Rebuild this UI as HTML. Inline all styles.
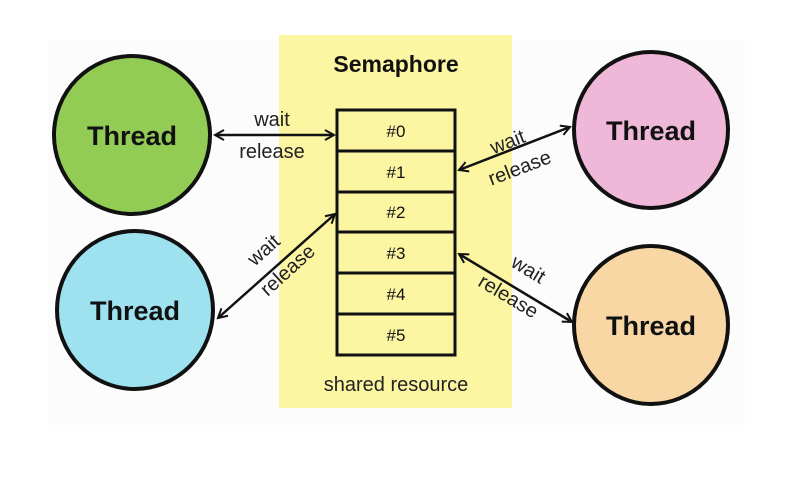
<!DOCTYPE html>
<html><head><meta charset="utf-8"><style>body{margin:0;background:#fff}</style></head><body>
<svg width="810" height="478" xmlns="http://www.w3.org/2000/svg" font-family="Liberation Sans, sans-serif">
<defs><marker id="a" markerWidth="12" markerHeight="12" refX="10" refY="6" orient="auto-start-reverse" markerUnits="userSpaceOnUse"><path d="M1,1 L10,6 L1,11" fill="none" stroke="#111" stroke-width="2"/></marker></defs>
<rect x="48" y="40" width="697" height="385" fill="#fcfcfc"/>
<rect x="279" y="35" width="233" height="373" fill="#fcf6a3"/>
<text x="396" y="72" text-anchor="middle" font-size="23" font-weight="bold" fill="#111">Semaphore</text>
<g fill="none" stroke="#111" stroke-width="3">
<rect x="337" y="110" width="118" height="245"/>
<line x1="337" y1="151" x2="455" y2="151"/><line x1="337" y1="192" x2="455" y2="192"/><line x1="337" y1="232" x2="455" y2="232"/><line x1="337" y1="273" x2="455" y2="273"/><line x1="337" y1="314" x2="455" y2="314"/>
</g>
<g font-size="17" text-anchor="middle" fill="#111">
<text x="396" y="137">#0</text><text x="396" y="178">#1</text><text x="396" y="218">#2</text><text x="396" y="259">#3</text><text x="396" y="300">#4</text><text x="396" y="341">#5</text>
</g>
<text x="396" y="391" text-anchor="middle" font-size="20" fill="#222">shared resource</text>
<g stroke="#111" stroke-width="4">
<ellipse cx="132" cy="135" rx="78" ry="79" fill="#92cc55"/>
<ellipse cx="135" cy="310" rx="78" ry="79" fill="#9ee2f0"/>
<ellipse cx="651" cy="130" rx="77" ry="78" fill="#efb8d8"/>
<ellipse cx="651" cy="325" rx="77" ry="79" fill="#f8d7a4"/>
</g>
<g font-size="27" font-weight="bold" text-anchor="middle" fill="#111">
<text x="132" y="145">Thread</text><text x="135" y="320">Thread</text><text x="651" y="140">Thread</text><text x="651" y="335">Thread</text>
</g>
<g stroke="#111" stroke-width="2.5" marker-start="url(#a)" marker-end="url(#a)">
<line x1="215" y1="135" x2="334" y2="135"/>
<line x1="459" y1="170" x2="570" y2="127"/>
<line x1="218" y1="318" x2="335" y2="214"/>
<line x1="459" y1="254" x2="572" y2="322"/>
</g>
<g font-size="20" fill="#222" text-anchor="middle">
<text x="272" y="126">wait</text><text x="272" y="158">release</text>
<text transform="translate(510,148) rotate(-21)">wait</text>
<text transform="translate(522,174) rotate(-21)">release</text>
<text transform="translate(268,255) rotate(-42)">wait</text>
<text transform="translate(292,275) rotate(-42)">release</text>
<text transform="translate(525,275) rotate(31)">wait</text>
<text transform="translate(505,302) rotate(31)">release</text>
</g>
</svg>
</body></html>
